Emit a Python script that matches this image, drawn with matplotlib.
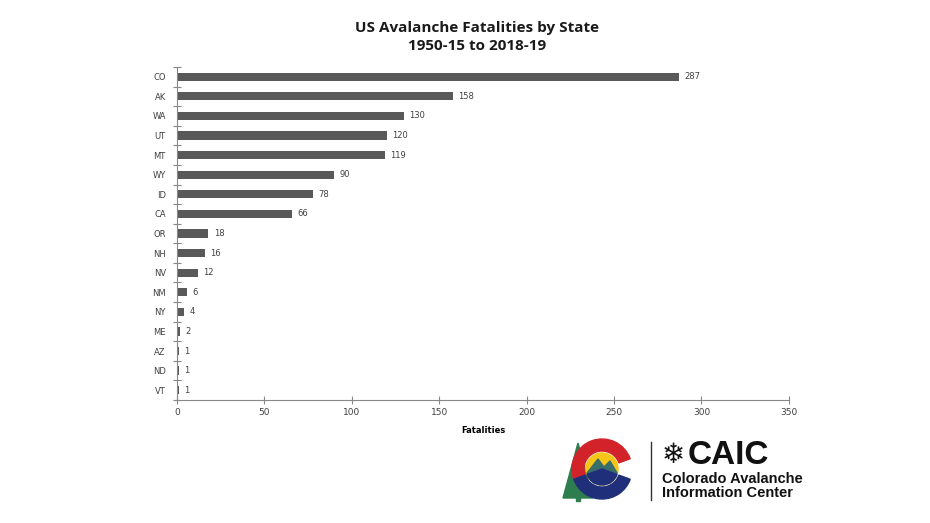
import matplotlib
matplotlib.use('Agg')
from matplotlib import pyplot as plt
from matplotlib.patches import Wedge, Circle, Polygon, Rectangle
from matplotlib.ticker import MultipleLocator

states = ['CO', 'AK', 'WA', 'UT', 'MT', 'WY', 'ID', 'CA', 'OR', 'NH', 'NV', 'NM', 'NY', 'ME', 'AZ', 'ND', 'VT']
fatalities = [287, 158, 130, 120, 119, 90, 78, 66, 18, 16, 12, 6, 4, 2, 1, 1, 1]
xticks = [0, 50, 100, 150, 200, 250, 300, 350]

fig = plt.figure(figsize=(9.3, 5.23), dpi=100)
ax = fig.add_axes([0.1903, 0.2352, 0.658, 0.6367])

ypos = list(range(len(states)))
ax.barh(ypos, fatalities, height=0.42, color='#595959')
for y, v in zip(ypos, fatalities):
    ax.text(v + 3, y, str(v), va='center', ha='left', fontsize=6, color='#404040')

ax.set_ylim(len(states) - 0.5, -0.5)
ax.set_xlim(0, 350)
ax.set_yticks(ypos)
ax.set_yticklabels(states, fontsize=6, color='#404040')
ax.set_yticks([i - 0.5 for i in range(len(states) + 1)], minor=True)
ax.set_xticks(xticks)
ax.set_xticklabels([str(t) for t in xticks], fontsize=6.5, color='#404040')
ax.tick_params(axis='y', which='major', length=0, pad=8)
ax.tick_params(axis='y', which='minor', length=6, direction='inout', color='#888888', width=0.8)
ax.tick_params(axis='x', which='major', length=6, direction='inout', color='#888888', width=0.8, pad=3)
for s in ['top', 'right']:
    ax.spines[s].set_visible(False)
ax.spines['left'].set_color('#888888')
ax.spines['bottom'].set_color('#888888')
ax.set_xlabel('Fatalities', fontsize=6, fontweight='bold', labelpad=6)

fig.text(0.513, 0.947, 'US Avalanche Fatalities by State', ha='center', va='center',
         fontsize=11, fontweight='bold', family='Open Sans', color='#1a1a1a')
fig.text(0.513, 0.912, '1950-15 to 2018-19', ha='center', va='center',
         fontsize=11, fontweight='bold', family='Open Sans', color='#1a1a1a')

# logo
lax = fig.add_axes([560 / 930, 20 / 523, 90 / 930, 66 / 523])
lax.set_xlim(0, 90)
lax.set_ylim(0, 66)
lax.set_aspect('equal')
lax.axis('off')
lax.add_patch(Polygon([[3, 5], [18, 60], [33, 5]], closed=True, color='#2e7d4f'))
lax.add_patch(Rectangle((16, 2), 4, 4, color='#2e7d4f'))
lax.add_patch(Wedge((42, 34), 30, 20, 200, width=12, color='#d2232a'))
lax.add_patch(Wedge((42, 34), 30, 200, 340, width=12, color='#1f2f7a'))
lax.add_patch(Circle((42, 34), 16, color='#f5c518'))
lax.add_patch(Polygon([[27, 30], [38, 44], [44, 36], [50, 42], [57, 30], [50, 20], [34, 20]], closed=True, color='#3a6e6a'))
lax.add_patch(Wedge((42, 34), 16, 200, 340, color='#1f2f7a'))

fig.lines.append(plt.Line2D([651 / 930, 651 / 930], [23 / 523, 81 / 523], transform=fig.transFigure, color='#333333', lw=1))
fig.text(662 / 930, 68 / 523, '\u2744', fontsize=20, fontweight='bold', family='DejaVu Sans', va='center', ha='left', color='#111111')
fig.text(688 / 930, 68 / 523, 'CAIC', fontsize=24, fontweight='black', family='Liberation Sans', va='center', ha='left', color='#111111')
fig.text(662 / 930, 44 / 523, 'Colorado Avalanche', fontsize=10.5, fontweight='bold', family='Liberation Sans', va='center', ha='left', color='#111111')
fig.text(662 / 930, 30 / 523, 'Information Center', fontsize=10.5, fontweight='bold', family='Liberation Sans', va='center', ha='left', color='#111111')

plt.savefig('out.png', dpi=100)
